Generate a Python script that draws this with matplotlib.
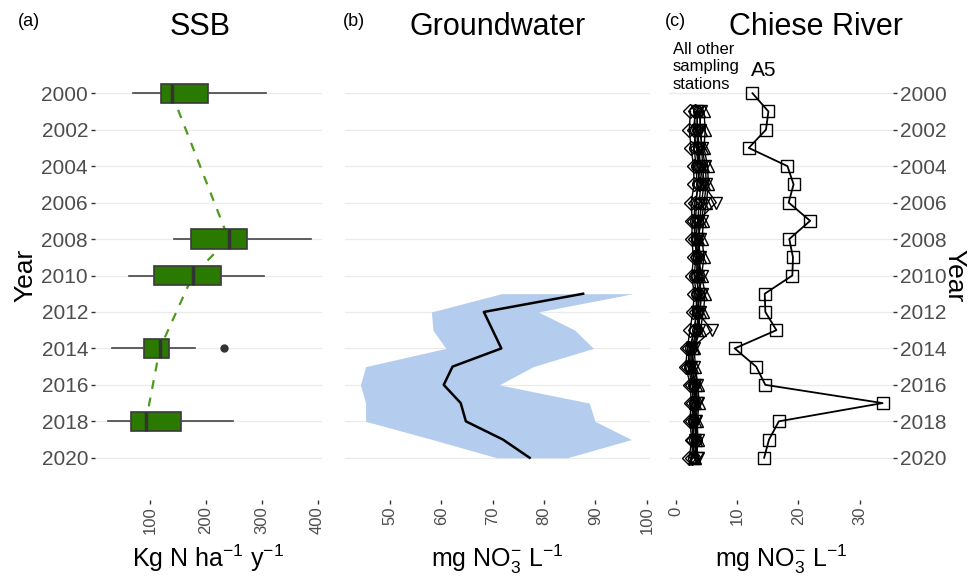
import matplotlib.pyplot as plt

plt.rcParams['font.family'] = ['Liberation Sans', 'DejaVu Sans']
plt.rcParams['mathtext.fontset'] = 'custom'
plt.rcParams['mathtext.rm'] = 'Liberation Sans'
plt.rcParams['mathtext.it'] = 'Liberation Sans:italic'
plt.rcParams['mathtext.default'] = 'regular'

# (a) SSB surplus, box statistics per year
ssb_years = [2000, 2008, 2010, 2014, 2018]
ssb_whislo = [70, 143, 63, 33, 25]
ssb_q1 = [120, 173, 107, 89, 67]
ssb_med = [139, 241, 177, 118, 93]
ssb_q3 = [204, 274, 227, 134, 156]
ssb_whishi = [308, 389, 305, 181, 248]
ssb_fliers = [[], [], [], [233], []]

# (b) groundwater nitrate, mean and range
gw_years = [2011, 2012, 2013, 2014, 2015, 2016, 2017, 2018, 2019, 2020]
gw_mean = [87.6, 68.3, 70.0, 71.7, 62.2, 60.5, 63.8, 64.8, 72.0, 77.2]
gw_low = [71.7, 58.1, 58.4, 60.9, 45.3, 44.3, 45.3, 45.3, 58.3, 70.8]
gw_high = [97.3, 78.9, 86.0, 89.6, 77.9, 71.3, 88.8, 89.9, 97.0, 84.5]

# (c) Chiese river nitrate
river_years = list(range(2000, 2021))
a5 = [12.5, 15.1, 14.7, 11.9, 18.2, 19.2, 18.4, 21.9, 18.5, 19.1, 19.0,
      14.5, 14.6, 16.4, 9.6, 13.1, 14.6, 33.7, 16.8, 15.2, 14.4]

station_years = list(range(2001, 2021))
st_up = [4.6, 4.8, 4.6, 5.2, 5.3, 5.0, 4.5, 4.3, 4.6, 4.2,
         4.8, 4.5, 4.0, 3.0, 3.2, 3.6, 3.8, 3.5, 3.6, 3.2]
st_diamond = [2.4, 2.2, 2.5, 2.9, 3.0, 2.5, 2.7, 2.6, 2.9, 2.6,
              3.0, 2.8, 2.3, 1.9, 1.6, 2.4, 2.5, 2.3, 2.6, 2.2]
st_down = [3.4, 3.6, 3.8, 4.0, 4.5, 6.6, 3.6, 4.0, 3.6, 4.3,
           3.8, 3.5, 5.9, 2.6, 3.0, 3.5, 3.4, 3.2, 3.6, 3.4]
st_circle = [3.0, 3.2, 3.0, 3.3, 3.5, 3.4, 3.2, 3.4, 3.3, 3.0,
             3.3, 3.4, 3.0, 2.4, 2.2, 3.0, 3.0, 2.8, 3.0, 2.8]
st_up2 = [3.8, 4.1, 4.2, 4.4, 4.6, 4.2, 3.9, 3.7, 4.0, 3.8,
          4.1, 4.0, 3.5, 2.8, 2.7, 3.3, 3.2, 3.1, 3.3, 3.0]
st_diamond2 = [3.2, 2.9, 3.4, 3.6, 3.8, 3.1, 3.0, 3.1, 3.4, 3.5,
               3.6, 3.3, 3.1, 2.2, 2.0, 2.7, 2.8, 2.6, 2.8, 2.6]
st_down2 = [4.1, 3.9, 4.3, 4.8, 5.0, 4.6, 4.2, 3.6, 3.9, 3.6,
            4.2, 3.9, 3.8, 2.9, 2.5, 3.2, 3.6, 3.3, 3.2, 3.7]
st_circle2 = [3.6, 3.4, 3.6, 3.8, 4.1, 3.8, 3.6, 3.3, 3.7, 3.3,
              3.8, 3.7, 3.4, 2.6, 2.4, 2.8, 3.2, 3.0, 3.4, 3.1]

year_ticks = list(range(2000, 2021, 2))

W, H = 971, 579
fig = plt.figure(figsize=(W / 100, H / 100), dpi=100)


def px_axes(x0, x1, y0, y1):
    return fig.add_axes([x0 / W, 1 - y1 / H, (x1 - x0) / W, (y1 - y0) / H])


def style_axes(ax):
    for s in ax.spines.values():
        s.set_visible(False)
    ax.spines['bottom'].set_position(('outward', 17))
    ax.set_ylim(2021, 1999)
    ax.set_yticks(year_ticks)
    ax.grid(axis='y', color='#ebebeb', linewidth=0.9)
    ax.grid(axis='x', visible=False)
    ax.set_axisbelow(True)
    ax.tick_params(axis='y', length=3, width=1, color='#333333',
                   labelcolor='#4d4d4d', labelsize=15, pad=2)
    ax.tick_params(axis='x', length=3, width=1, color='#333333',
                   labelcolor='#4d4d4d', labelsize=12, pad=2, labelrotation=90)


def place_xlabel(ax, text):
    ax.set_xlabel(text, fontsize=18)
    ax.xaxis.set_label_coords(0.5, -0.166)


ax_a = px_axes(95, 322, 75, 476)
ax_b = px_axes(345, 650, 75, 476)
ax_c = px_axes(669, 893, 75, 476)

# ---- (a)
style_axes(ax_a)
stats = []
for i in range(len(ssb_years)):
    stats.append({'whislo': ssb_whislo[i], 'q1': ssb_q1[i], 'med': ssb_med[i],
                  'q3': ssb_q3[i], 'whishi': ssb_whishi[i], 'fliers': ssb_fliers[i]})
ax_a.bxp(stats, positions=ssb_years, widths=1.05, orientation='horizontal',
         patch_artist=True, showcaps=False, manage_ticks=False,
         boxprops=dict(facecolor='#2b7a00', edgecolor='#3a3a3a', linewidth=1.2),
         medianprops=dict(color='#333333', linewidth=2.5),
         whiskerprops=dict(color='#444444', linewidth=1.2),
         flierprops=dict(marker='o', markerfacecolor='#333333',
                         markeredgecolor='#333333', markersize=5))
ax_a.plot(ssb_med, ssb_years, linestyle=(0, (4, 4)), color='#4e9a1e',
          linewidth=1.6, zorder=1)
ax_a.set_xlim(2, 408)
ax_a.set_xticks([100, 200, 300, 400])
place_xlabel(ax_a, r'Kg N ha$^{-1}$ y$^{-1}$')
ax_a.set_ylabel('Year', fontsize=19, labelpad=3)

# ---- (b)
style_axes(ax_b)
ax_b.fill_betweenx(gw_years, gw_low, gw_high, color='#b4cdee', linewidth=0)
ax_b.plot(gw_mean, gw_years, color='black', linewidth=1.8)
ax_b.set_xlim(41.3, 100.6)
ax_b.set_xticks([50, 60, 70, 80, 90, 100])
ax_b.tick_params(axis='y', left=False, labelleft=False)
place_xlabel(ax_b, r'mg NO$_3^{-}$ L$^{-1}$')

# ---- (c)
style_axes(ax_c)
mk = dict(color='black', linewidth=1.0, markerfacecolor='none',
          markeredgecolor='black', markeredgewidth=1.0, markersize=9)
ax_c.plot(st_up, station_years, marker='^', **mk)
ax_c.plot(st_diamond, station_years, marker='D', **{**mk, 'markersize': 7.5})
ax_c.plot(st_down, station_years, marker='v', **mk)
ax_c.plot(st_circle, station_years, marker='o', **{**mk, 'markersize': 7})
ax_c.plot(st_up2, station_years, marker='^', **mk)
ax_c.plot(st_diamond2, station_years, marker='D', **{**mk, 'markersize': 7.5})
ax_c.plot(st_down2, station_years, marker='v', **mk)
ax_c.plot(st_circle2, station_years, marker='o', **{**mk, 'markersize': 7})
ax_c.plot(a5, river_years, marker='s', color='black', linewidth=1.3,
          markerfacecolor='none', markeredgecolor='black',
          markeredgewidth=1.0, markersize=9)
ax_c.set_xlim(-1.1, 35.4)
ax_c.set_xticks([0, 10, 20, 30])
ax_c.yaxis.tick_right()
ax_c.yaxis.set_label_position('right')
ax_c.set_ylabel('Year', fontsize=19, rotation=270, labelpad=14)
place_xlabel(ax_c, r'mg NO$_3^{-}$ L$^{-1}$')

# ---- titles and panel letters
fig.text(18 / W, 1 - 22 / H, '(a)', fontsize=13, va='center')
fig.text(200 / W, 1 - 27 / H, 'SSB', fontsize=22, ha='center', va='center')
fig.text(343 / W, 1 - 22 / H, '(b)', fontsize=13, va='center')
fig.text(498 / W, 1 - 27 / H, 'Groundwater', fontsize=22, ha='center', va='center')
fig.text(665 / W, 1 - 22 / H, '(c)', fontsize=13, va='center')
fig.text(816 / W, 1 - 27 / H, 'Chiese River', fontsize=22, ha='center', va='center')
fig.text(673 / W, 1 - 42 / H, 'All other\nsampling\nstations', fontsize=12,
         va='top', linespacing=1.2)
fig.text(764 / W, 1 - 71 / H, 'A5', fontsize=15, ha='center', va='center')

fig.savefig('out.png', dpi=100)
